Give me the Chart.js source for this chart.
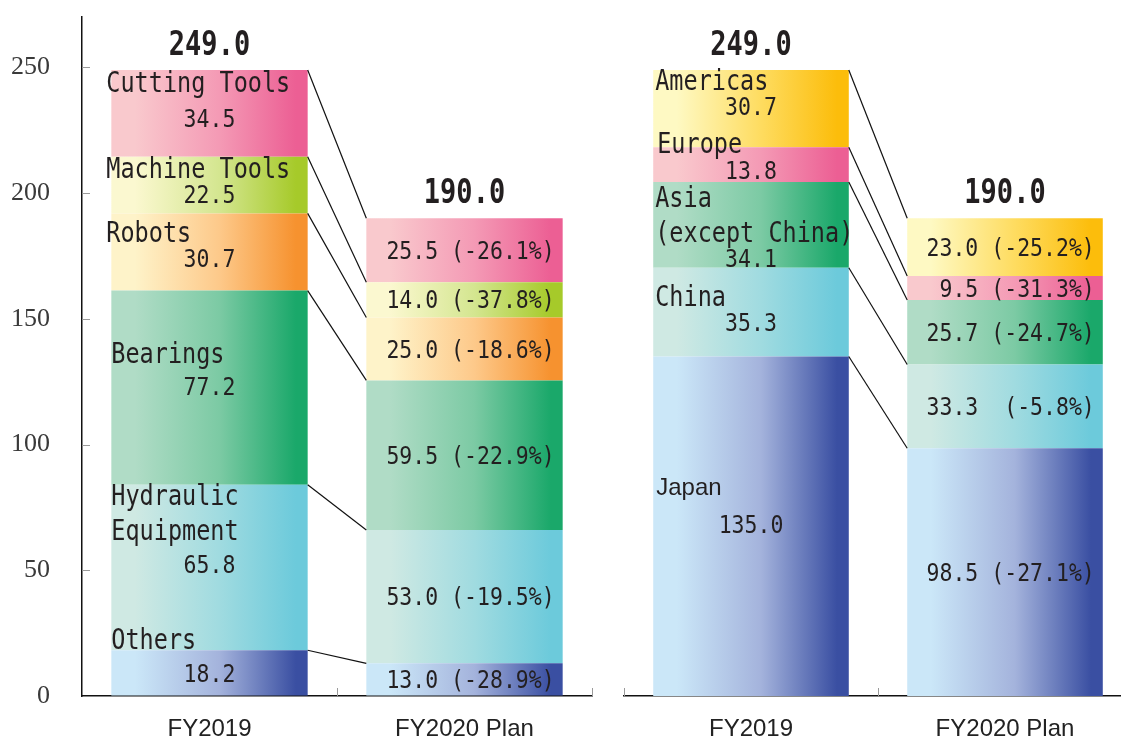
<!DOCTYPE html>
<html>
<head>
<meta charset="utf-8">
<script src="https://cdn.jsdelivr.net/npm/chart.js@4.4.0/dist/chart.umd.min.js"></script>
<style>
  html, body { margin: 0; padding: 0; background: #fff; overflow: hidden; }
  #wrap { position: relative; width: 1121px; height: 740px; overflow: hidden; }
  canvas { position: absolute; top: 0; }
</style>
</head>
<body>
<div id="wrap">
  <canvas id="productChart" width="600" height="740" style="left:0"></canvas>
  <canvas id="regionChart" width="560" height="740" style="left:600px"></canvas>
</div>
<script>
// ---- data ----
const categories = ['FY2019', 'FY2020 Plan'];
const totals = ['249.0', '190.0'];
const yTicks = [0, 50, 100, 150, 200, 250];

// stacked bottom -> top
const productNames = ['Others', 'Hydraulic\nEquipment', 'Bearings', 'Robots', 'Machine Tools', 'Cutting Tools'];
const product2019 = [18.2, 65.8, 77.2, 30.7, 22.5, 34.5];
const product2020 = [13.0, 53.0, 59.5, 25.0, 14.0, 25.5];
const productChange = ['(-28.9%)', '(-19.5%)', '(-22.9%)', '(-18.6%)', '(-37.8%)', '(-26.1%)'];

const regionNames = ['Japan', 'China', 'Asia\n(except China)', 'Europe', 'Americas'];
const region2019 = [135.0, 35.3, 34.1, 13.8, 30.7];
const region2020 = [98.5, 33.3, 25.7, 9.5, 23.0];
const regionChange = ['(-27.1%)', ' (-5.8%)', '(-24.7%)', '(-31.3%)', '(-25.2%)'];

// ---- styles ----
const palette = {
  blue:   ['#cbe7f8', '#a4b3dc', '#3a4fa2'],
  cyan:   ['#cfe9e3', '#a0dbe0', '#6ccadb'],
  green:  ['#b0dcc6', '#7ccaa4', '#1aa86a'],
  orange: ['#fef3c9', '#fdc98a', '#f6922f'],
  lime:   ['#fbf8d0', '#d4e690', '#a6ca2a'],
  pink:   ['#f9c9cd', '#f49ab5', '#ec5f94'],
  yellow: ['#fef9c3', '#fedc60', '#fcbd0b']
};
const productColors = [palette.blue, palette.cyan, palette.green, palette.orange, palette.lime, palette.pink];
const regionColors = [palette.blue, palette.cyan, palette.green, palette.pink, palette.yellow];

// where the name / value text sits in the FY2019 bar (px below segment top)
const productLayout = [
  { name: -8, value: 25, dx: 0 },
  { name: 13, value: 82, dx: 0 },
  { name: 65, value: 98, dx: 0 },
  { name: 21, value: 47, dx: -5 },
  { name: 14, value: 40, dx: -5 },
  { name: 15, value: 50, dx: -5 }
];
const regionLayout = [
  { name: 132, value: 170, dx: 3, sans: true },
  { name: 31, value: 57, dx: 2 },
  { name: 18, value: 78, dx: 2 },
  { name: -1, value: 25, dx: 4 },
  { name: 13, value: 38, dx: 2 }
];

const BAR_PCT = 0.77;
const TEXT = '#231f20';
const MONO = '"DejaVu Sans Mono", "Liberation Mono", monospace';
const STRETCH = 1.18;

function barGradient(stops) {
  return (c) => {
    const chart = c.chart;
    const xs = chart.scales.x;
    if (!chart.chartArea || !xs) return stops[2];
    const cx = xs.getPixelForValue(c.dataIndex);
    const half = (xs.width / chart.data.labels.length) * BAR_PCT / 2;
    const g = chart.ctx.createLinearGradient(cx - half, 0, cx + half, 0);
    g.addColorStop(0, stops[0]);
    g.addColorStop(0.12, stops[0]);
    g.addColorStop(0.55, stops[1]);
    g.addColorStop(0.94, stops[2]);
    g.addColorStop(1, stops[2]);
    return g;
  };
}

function makeDatasets(names, v19, v20, colors) {
  return names.map((n, i) => ({
    label: n,
    data: [v19[i], v20[i]],
    backgroundColor: barGradient(colors[i]),
    borderWidth: 0,
    barPercentage: BAR_PCT,
    categoryPercentage: 1
  }));
}

function txt(ctx, s, x, y, font, align, stretch) {
  ctx.save();
  ctx.font = font;
  ctx.fillStyle = TEXT;
  ctx.textAlign = align;
  ctx.textBaseline = 'middle';
  ctx.translate(x, y);
  ctx.scale(1, stretch);
  ctx.fillText(s, 0, 0);
  ctx.restore();
}

function bridgePlugin(names, v20, change, layout, showY) {
  return {
    id: 'bridge',
    afterDraw(chart) {
      const ctx = chart.ctx;
      const xs = chart.scales.x, ys = chart.scales.y;
      const n = chart.data.datasets.length;
      ctx.save();

      // small grey marks on the axes
      ctx.strokeStyle = '#9a9a9a';
      ctx.lineWidth = 1;
      const cw = xs.width / chart.data.labels.length;
      for (let i = showY ? 1 : 0; i <= chart.data.labels.length; i++) {
        const x = Math.round(xs.left + i * cw) + 0.5;
        ctx.beginPath(); ctx.moveTo(x, xs.top); ctx.lineTo(x, xs.top - 8); ctx.stroke();
      }
      if (showY) {
        yTicks.slice(1).forEach(v => {
          const y = Math.round(ys.getPixelForValue(v)) + 0.5;
          ctx.beginPath(); ctx.moveTo(ys.right, y); ctx.lineTo(ys.right + 8, y); ctx.stroke();
        });
      }

      // connector lines between the two bars
      ctx.strokeStyle = '#111';
      ctx.lineWidth = 1.2;
      for (let i = 0; i < n; i++) {
        const meta = chart.getDatasetMeta(i);
        const a = meta.data[0], b = meta.data[1];
        ctx.beginPath();
        ctx.moveTo(a.x + a.width / 2, a.y);
        ctx.lineTo(b.x - b.width / 2, b.y);
        ctx.stroke();
      }

      // labels
      for (let i = 0; i < n; i++) {
        const meta = chart.getDatasetMeta(i);
        const a = meta.data[0], b = meta.data[1];
        const lay = layout[i];
        const nameFont = lay.sans ? '24px "Liberation Sans", Arial, sans-serif' : '23.5px ' + MONO;
        const st = lay.sans ? 1 : STRETCH;
        names[i].split('\n').forEach((line, k) => {
          txt(ctx, line, a.x - a.width / 2 + lay.dx, a.y + lay.name + k * 35, nameFont, 'left', st);
        });
        txt(ctx, chart.data.datasets[i].data[0].toFixed(1), a.x, a.y + lay.value, '21.5px ' + MONO, 'center', STRETCH);
        txt(ctx, v20[i].toFixed(1) + ' ' + change[i], b.x + b.width / 2 - 8, (b.y + b.base) / 2 + 2,
          '21.5px ' + MONO, 'right', STRETCH);
      }

      // totals above the bars
      const top = chart.getDatasetMeta(n - 1);
      top.data.forEach((el, j) => {
        txt(ctx, totals[j], el.x, el.y - 24, 'bold 27px ' + MONO, 'center', 1.22);
      });
      ctx.restore();
    }
  };
}

function makeChart(id, names, v19, v20, change, colors, layout, showY) {
  return new Chart(document.getElementById(id), {
    type: 'bar',
    data: { labels: categories, datasets: makeDatasets(names, v19, v20, colors) },
    options: {
      responsive: false,
      animation: false,
      layout: { padding: showY ? { top: 17, right: 8 } : { top: 17, left: 24, right: 28 } },
      plugins: { legend: { display: false }, tooltip: { enabled: false } },
      scales: {
        x: {
          stacked: true,
          grid: { display: true, drawOnChartArea: false, drawTicks: false },
          border: { color: '#111', width: 1.5 },
          ticks: { color: '#222', padding: 19, font: { family: '"Liberation Sans", Arial, sans-serif', size: 24 } },
          afterFit: s => { s.height = 44; s.paddingLeft = 0; s.paddingRight = 0; }
        },
        y: {
          display: showY,
          stacked: true,
          min: 0,
          max: 270,
          afterBuildTicks: s => { s.ticks = yTicks.map(v => ({ value: v })); },
          grid: { drawOnChartArea: false, drawTicks: false },
          border: { color: '#111', width: 1.5 },
          ticks: { color: '#3a3a3a', padding: 32, font: { family: '"Liberation Serif", "Times New Roman", serif', size: 26 } },
          afterFit: s => {
            if (showY) s.width = 82;
            s.paddingTop = 0;
            s.paddingBottom = 0;
          }
        }
      }
    },
    plugins: [bridgePlugin(names, v20, change, layout, showY)]
  });
}

function build() {
  makeChart('productChart', productNames, product2019, product2020, productChange, productColors, productLayout, true);
  makeChart('regionChart', regionNames, region2019, region2020, regionChange, regionColors, regionLayout, false);
}

Promise.all([
  document.fonts.load('23px "DejaVu Sans Mono"'),
  document.fonts.load('bold 27px "DejaVu Sans Mono"'),
  document.fonts.load('24px "Liberation Sans"'),
  document.fonts.load('26px "Liberation Serif"')
]).then(build, build);
</script>
</body>
</html>
